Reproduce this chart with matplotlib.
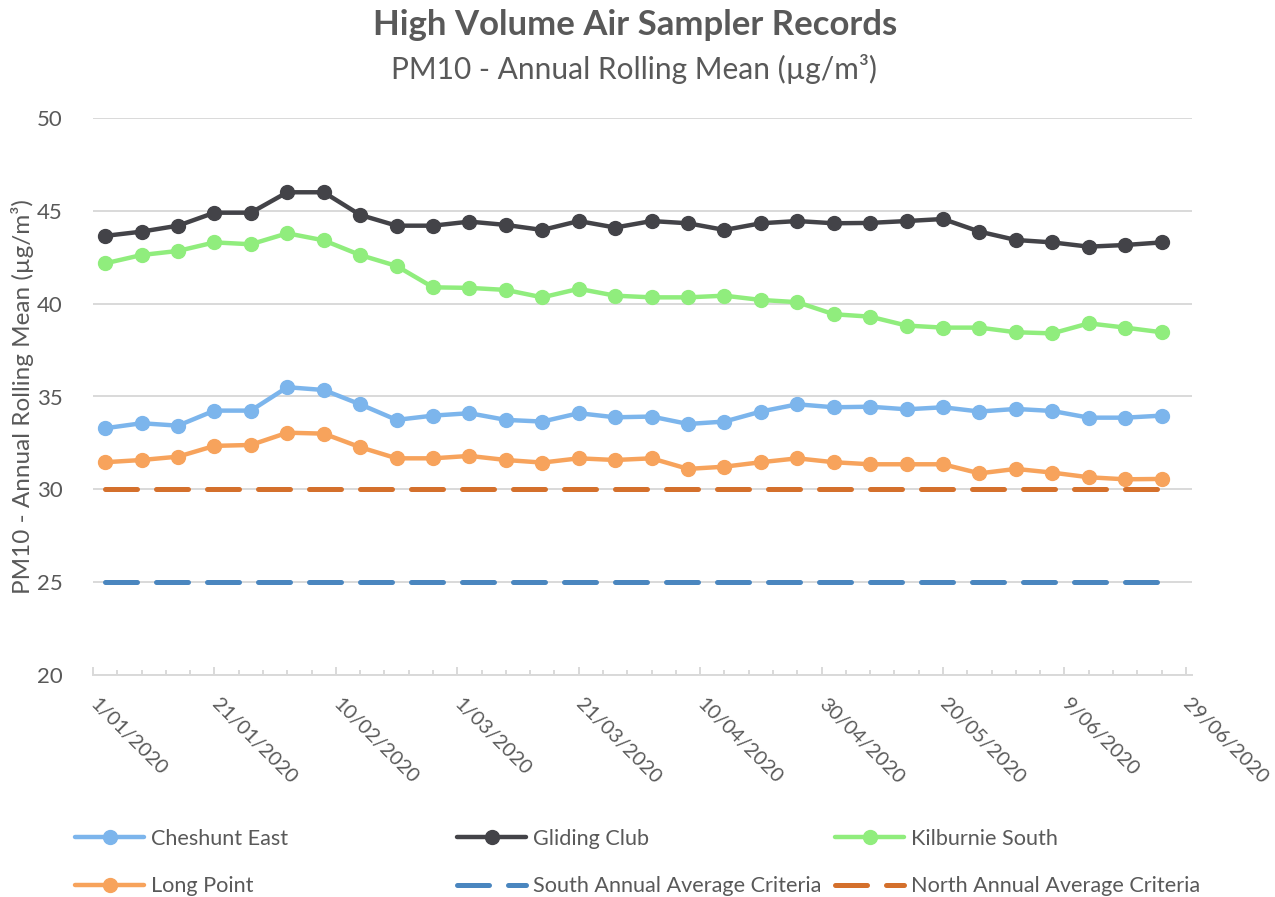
import numpy as np
import matplotlib.pyplot as plt
from datetime import date

plt.rcParams['font.family'] = ['Lato', 'DejaVu Sans']

sample_dates = ['2020-01-03', '2020-01-09', '2020-01-15', '2020-01-21', '2020-01-27',
                '2020-02-02', '2020-02-08', '2020-02-14', '2020-02-20', '2020-02-26',
                '2020-03-03', '2020-03-09', '2020-03-15', '2020-03-21', '2020-03-27',
                '2020-04-02', '2020-04-08', '2020-04-14', '2020-04-20', '2020-04-26',
                '2020-05-02', '2020-05-08', '2020-05-14', '2020-05-20', '2020-05-26',
                '2020-06-01', '2020-06-07', '2020-06-13', '2020-06-19', '2020-06-25']

cheshunt_east = [33.29, 33.56, 33.43, 34.24, 34.24, 35.5, 35.35, 34.58, 33.74, 33.97,
                 34.1, 33.74, 33.65, 34.1, 33.88, 33.92, 33.52, 33.65, 34.19, 34.58,
                 34.42, 34.45, 34.31, 34.42, 34.19, 34.33, 34.22, 33.86, 33.86, 33.97]
gliding_club = [43.65, 43.88, 44.2, 44.9, 44.9, 46.0, 46.0, 44.78, 44.2, 44.2,
                44.42, 44.24, 43.97, 44.45, 44.1, 44.45, 44.33, 43.97, 44.33, 44.45,
                44.33, 44.35, 44.45, 44.56, 43.88, 43.43, 43.3, 43.07, 43.16, 43.3]
kilburnie_south = [42.17, 42.62, 42.84, 43.3, 43.2, 43.79, 43.41, 42.62, 42.03, 40.88,
                   40.85, 40.74, 40.34, 40.8, 40.43, 40.34, 40.34, 40.43, 40.2, 40.08,
                   39.43, 39.3, 38.82, 38.71, 38.71, 38.46, 38.4, 38.94, 38.71, 38.46]
long_point = [31.46, 31.58, 31.76, 32.34, 32.39, 33.05, 33.0, 32.27, 31.67, 31.67,
              31.8, 31.58, 31.44, 31.67, 31.58, 31.67, 31.1, 31.22, 31.46, 31.67,
              31.46, 31.35, 31.35, 31.35, 30.86, 31.1, 30.9, 30.65, 30.54, 30.56]
south_criteria = 25
north_criteria = 30

tick_dates = ['2020-01-01', '2020-01-21', '2020-02-10', '2020-03-01', '2020-03-21',
              '2020-04-10', '2020-04-30', '2020-05-20', '2020-06-09', '2020-06-29']

text_color = '#595959'
grid_color = '#d9d9d9'

x = np.array(sample_dates, dtype='datetime64[D]')

fig = plt.figure(figsize=(12.75, 8.97), dpi=100)
ax = fig.add_axes([93 / 1275, 1 - 675 / 897, (1192 - 93) / 1275, (675 - 118) / 897])

series = [
    ('Cheshunt East', cheshunt_east, '#7cb5ec'),
    ('Gliding Club', gliding_club, '#434348'),
    ('Kilburnie South', kilburnie_south, '#90ed7d'),
    ('Long Point', long_point, '#f7a35c'),
]
handles = {}
for name, vals, col in series:
    h, = ax.plot(x, vals, color=col, lw=3.2, marker='o', markersize=10,
                 solid_capstyle='round', label=name, zorder=3)
    handles[name] = h

for name, val, col in [('South Annual Average Criteria', south_criteria, '#4a86bf'),
                       ('North Annual Average Criteria', north_criteria, '#d4702c')]:
    h, = ax.plot(x, [val] * len(x), color=col, lw=3.6, dashes=(6.4, 3.8),
                 dash_capstyle='round', label=name, zorder=2)
    handles[name] = h

ax.set_ylim(20, 50)
ax.set_yticks(np.arange(20, 51, 5))
ax.set_xlim(np.datetime64('2020-01-01'), np.datetime64('2020-06-30'))
ax.grid(axis='y', color=grid_color, lw=1.4)
ax.set_axisbelow(True)

# major ticks every 20 days, minor every 4
ticks = np.array(tick_dates, dtype='datetime64[D]')
ax.set_xticks(ticks)
labels = []
for t in tick_dates:
    d = date.fromisoformat(t)
    labels.append(f'{d.day}/{d.month:02d}/{d.year}')
ax.set_xticklabels(labels, rotation=-45, ha='left', va='center',
                   rotation_mode='anchor')
minor = np.arange(np.datetime64('2020-01-01'), np.datetime64('2020-06-30'), 4)
ax.set_xticks(minor, minor=True)

for s in ['left', 'right', 'top']:
    ax.spines[s].set_visible(False)
ax.spines['bottom'].set_color(grid_color)
ax.spines['bottom'].set_linewidth(1.4)
ax.tick_params(axis='x', which='major', direction='in', length=6, width=1.4,
               color=grid_color, labelsize=14.5, labelcolor=text_color, pad=19)
ax.tick_params(axis='x', which='minor', direction='in', length=3.5, width=1.4,
               color=grid_color)
ax.tick_params(axis='y', length=0, labelsize=16, labelcolor=text_color, pad=22)

ax.set_ylabel('PM10 - Annual Rolling Mean (µg/m³)', fontsize=17.5, color=text_color,
              labelpad=2)

fig.text(0.498, 1 - 25 / 897, 'High Volume Air Sampler Records', ha='center',
         va='center', fontsize=25, fontweight='bold', color=text_color)
fig.text(0.4975, 1 - 69 / 897, 'PM10 - Annual Rolling Mean (µg/m³)', ha='center',
         va='center', fontsize=21.5, color=text_color)

columns = [
    (75, ['Cheshunt East', 'Long Point']),
    (457, ['Gliding Club', 'South Annual Average Criteria']),
    (835, ['Kilburnie South', 'North Annual Average Criteria']),
]
for xpix, names in columns:
    leg = fig.legend([handles[n] for n in names], names, loc='upper left',
                     bbox_to_anchor=(xpix / 1275, 1 - 829 / 897), frameon=False,
                     fontsize=15.6, handlelength=3.2, handletextpad=0.3,
                     labelspacing=1.25, borderpad=0, borderaxespad=0)
    for t in leg.get_texts():
        t.set_color(text_color)

fig.savefig('out.png', dpi=100)
